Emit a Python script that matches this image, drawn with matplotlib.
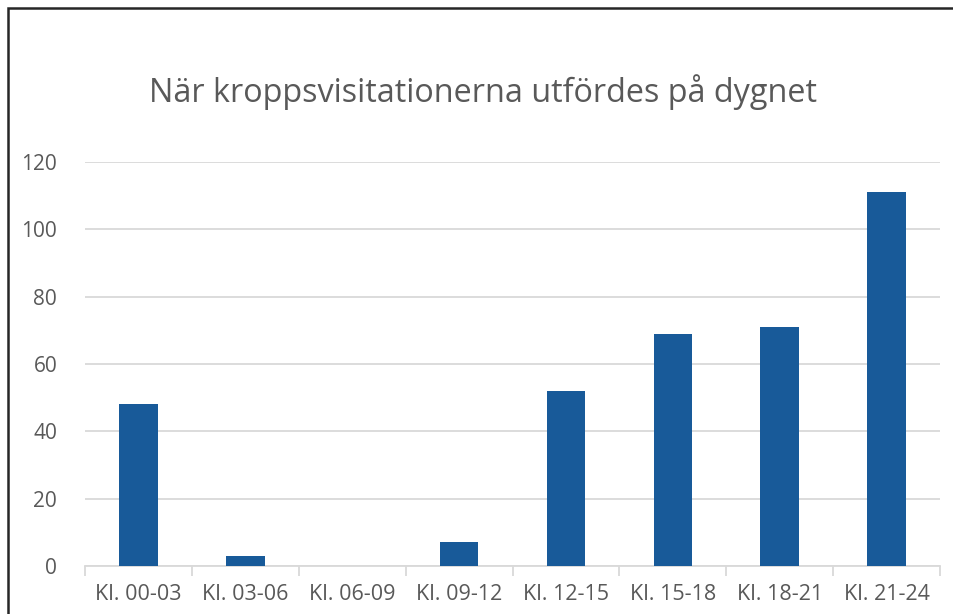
import matplotlib.pyplot as plt
from matplotlib.patches import Rectangle
import numpy as np

# Data
categories = ['Kl. 00-03', 'Kl. 03-06', 'Kl. 06-09', 'Kl. 09-12',
              'Kl. 12-15', 'Kl. 15-18', 'Kl. 18-21', 'Kl. 21-24']
values = [48, 3, 0, 7, 52, 69, 71, 111]
y_ticks = [0, 20, 40, 60, 80, 100, 120]

plt.rcParams['font.family'] = ['Open Sans', 'DejaVu Sans']

W, H = 954, 614
fig = plt.figure(figsize=(W / 100, H / 100), dpi=100)
ax = fig.add_axes([85 / W, (H - 566) / H, (940 - 85) / W, (566 - 162) / H])

x = np.arange(len(categories))
ax.bar(x, values, width=0.36, color='#185a99', zorder=3)

ax.set_xlim(-0.5, len(categories) - 0.5)
ax.set_ylim(0, 120)
ax.set_yticks(y_ticks)
ax.set_xticks(x)
ax.set_xticklabels(categories)
ax.set_xticks(np.arange(-0.5, len(categories), 1.0), minor=True)

ax.grid(axis='y', color='#d9d9d9', linewidth=1.3, zorder=0)
for s in ['top', 'right', 'left']:
    ax.spines[s].set_visible(False)
ax.spines['bottom'].set_color('#d9d9d9')
ax.spines['bottom'].set_linewidth(1.3)

ax.tick_params(axis='y', length=0, labelsize=15, labelcolor='#595959', pad=20)
ax.tick_params(axis='x', which='major', length=0, labelsize=15.5,
               labelcolor='#595959', pad=13)
ax.tick_params(axis='x', which='minor', length=7, width=1.3, color='#d9d9d9')

fig.text(483 / W, 1 - 92 / H, 'När kroppsvisitationerna utfördes på dygnet',
         ha='center', va='center', fontsize=23.3, color='#595959')

# chart frame (only top and left visible in the crop)
fig.patches.append(Rectangle((8 / W, -0.5), 2.0, 1 - 8 / H + 0.5,
                             transform=fig.transFigure, fill=False,
                             edgecolor='#262626', linewidth=1.8))

plt.savefig('out.png', dpi=100)
